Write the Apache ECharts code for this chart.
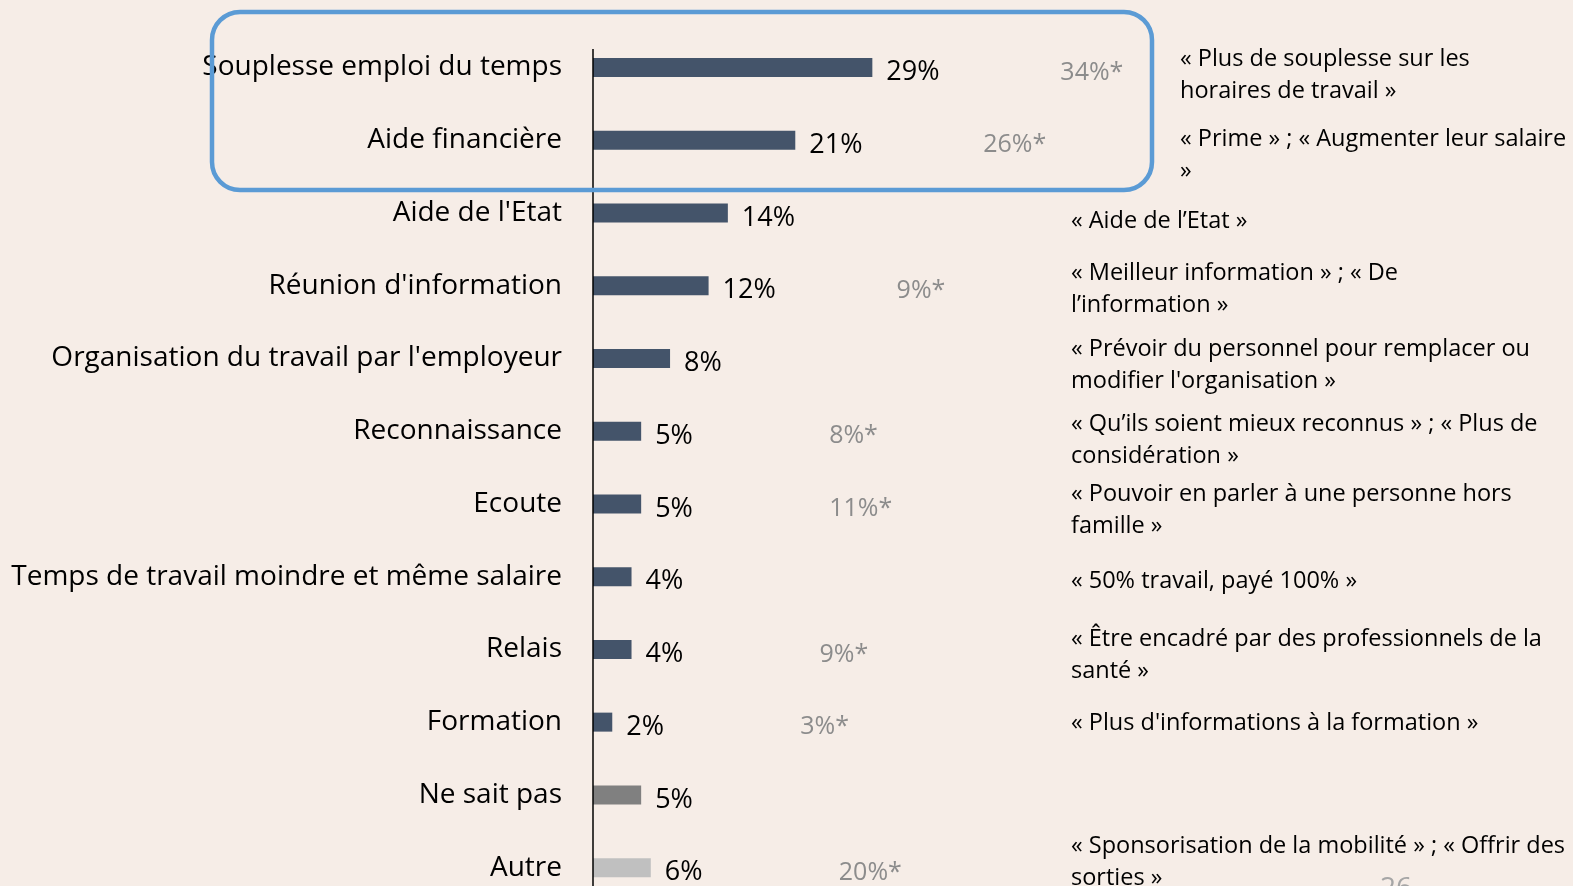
<!DOCTYPE html>
<html>
<head>
<meta charset="utf-8">
<script src="https://cdn.jsdelivr.net/npm/echarts@6/dist/echarts.min.js"></script>
<style>
html,body{margin:0;padding:0;background:#f6ede7;}
#c{width:1573px;height:886px;}
</style>
</head>
<body>
<div id="c"></div>
<script>
// ---- data ----
const categories = [
  'Souplesse emploi du temps',
  'Aide financière',
  "Aide de l'Etat",
  "Réunion d'information",
  "Organisation du travail par l'employeur",
  'Reconnaissance',
  'Ecoute',
  'Temps de travail moindre et même salaire',
  'Relais',
  'Formation',
  'Ne sait pas',
  'Autre'
];
const values = [29, 21, 14, 12, 8, 5, 5, 4, 4, 2, 5, 6];
const previousValues = [34, 26, null, 9, null, 8, 11, null, 9, 3, null, 20];
const annotations = [
  '« Plus de souplesse sur les\nhoraires de travail »',
  '« Prime » ; « Augmenter leur salaire\n»',
  '« Aide de l’Etat »',
  '« Meilleur information » ; « De\nl’information »',
  "« Prévoir du personnel pour remplacer ou\nmodifier l'organisation »",
  '« Qu’ils soient mieux reconnus » ; « Plus de\nconsidération »',
  '« Pouvoir en parler à une personne hors\nfamille »',
  '« 50% travail, payé 100% »',
  '« Être encadré par des professionnels de la\nsanté »',
  "« Plus d'informations à la formation »",
  '',
  '« Sponsorisation de la mobilité » ; « Offrir des\nsorties »'
];
const pageNumber = '26';

// ---- styles / layout ----
const FONT = '"Open Sans", sans-serif';
const barColorByName = { 'Ne sait pas': '#808080', 'Autre': '#c0c0c0' };
const defaultBarColor = '#44546a';
const annotationDx = [109, 109, 0, 0, 0, 0, 0, 0, 0, 0, 0, 0];
const annotationDy = [8, 15, 8, 4, 7, 9, 6, 5, 6, 1, 0, -5];

const chart = echarts.init(document.getElementById('c'), null, { renderer: 'canvas', width: 1573, height: 886 });

const option = {
  backgroundColor: '#f6ede7',
  animation: false,
  textStyle: { fontFamily: FONT },
  grid: { left: 593, right: 508, top: 31, bottom: -18, containLabel: false, outerBoundsMode: 'none' },
  xAxis: { type: 'value', min: 0, max: 49, show: false },
  yAxis: {
    type: 'category',
    data: categories,
    inverse: true,
    axisLine: { show: false },
    axisTick: { show: false },
    splitLine: { show: false },
    axisLabel: { fontSize: 28, color: '#000', margin: 31, fontFamily: FONT }
  },
  series: [{
    type: 'bar',
    data: values,
    barWidth: 19,
    itemStyle: { color: p => barColorByName[p.name] || defaultBarColor },
    label: {
      show: true,
      position: 'right',
      distance: 14,
      offset: [0, 5],
      formatter: p => {
        const prev = previousValues[p.dataIndex];
        return '{v|' + p.value + '%}' + (prev != null ? '{g|' + prev + '%*}' : '');
      },
      rich: {
        v: { fontSize: 27, color: '#000', width: 174, fontFamily: FONT },
        g: { fontSize: 25, color: '#8c8c8c', fontFamily: FONT }
      }
    }
  }]
};
chart.setOption(option);

// decorations positioned from the axes
const x0 = chart.convertToPixel({ xAxisIndex: 0 }, 0);
const xRight = chart.convertToPixel({ xAxisIndex: 0 }, 49);
const graphics = [
  { type: 'line', shape: { x1: x0, y1: 49, x2: x0, y2: 886 }, style: { stroke: '#000', lineWidth: 1.5 }, z: 50 },
  { type: 'rect', shape: { x: 212, y: 12, width: 940, height: 178, r: 28 }, style: { fill: 'none', stroke: '#5b9bd5', lineWidth: 4.5 }, z: 100 },
  { type: 'text', x: 1380, y: 875, style: { text: pageNumber, font: '28px ' + FONT, fill: '#a6a6a6', verticalAlign: 'top' }, z: 100 }
];
categories.forEach((c, i) => {
  if (!annotations[i]) return;
  const y = chart.convertToPixel({ yAxisIndex: 0 }, c);
  graphics.push({
    type: 'text',
    x: xRight + 6 + annotationDx[i],
    y: y + annotationDy[i],
    style: { text: annotations[i], font: '23.5px ' + FONT, fill: '#000', lineHeight: 32, verticalAlign: 'middle', align: 'left' },
    z: 100
  });
});
chart.setOption({ graphic: graphics });
</script>
</body>
</html>
